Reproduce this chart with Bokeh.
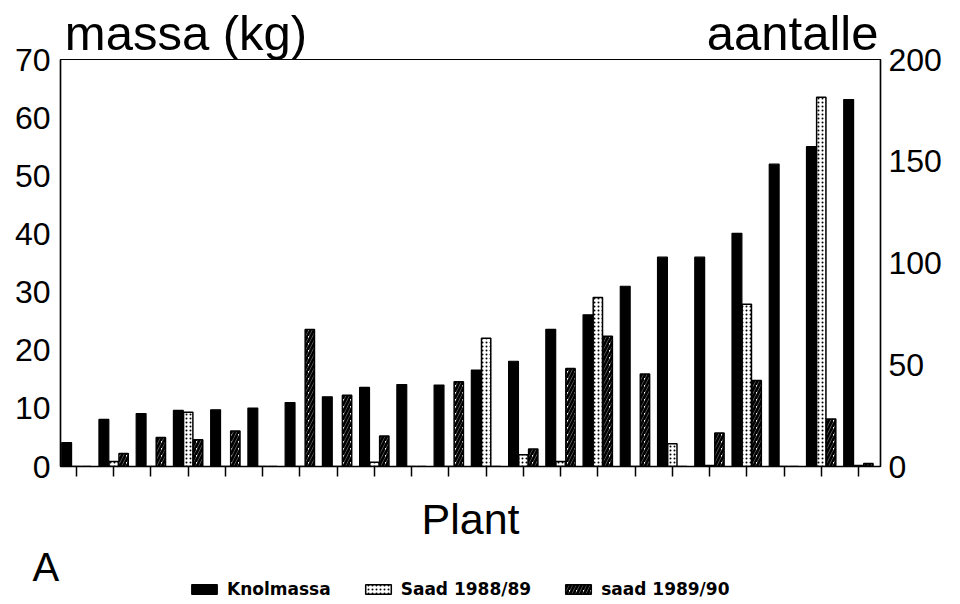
from bokeh.plotting import figure
from bokeh.models import (Range1d, LinearAxis, FixedTicker, Legend, Label,
                          LegendItem, ColumnDataSource)
from bokeh.transform import dodge
from bokeh.layouts import column
from bokeh.embed import file_html
from bokeh.resources import INLINE

plants = list(range(1, 23))
knolmassa = [4.1, 8.1, 9.1, 9.65, 9.75, 10.05, 11.0, 12.0, 13.6, 14.1, 14.0,
             16.6, 18.1, 23.6, 26.1, 31.0, 36.0, 36.0, 40.1, 52.0, 55.0, 63.1]
saad_1988_89 = [0, 2.5, 0, 26.6, 0, 0, 0, 0, 2.1, 0, 0,
                63, 5.8, 2.5, 83, 0, 11.2, 0.5, 79.7, 0, 181.5, 0.5]
saad_1989_90 = [0, 6.4, 14.2, 13.2, 17.5, 0, 67.3, 35, 15, 0, 41.7,
                0, 8.6, 48.2, 64, 45.5, 0, 16.5, 42.2, 0, 23.3, 1.5]
left_ticks = [0, 10, 20, 30, 40, 50, 60, 70]
right_ticks = [0, 50, 100, 150, 200]
left_title = "massa (kg)"
right_title = "aantalle"
x_title = "Plant"
panel_letter = "A"
series_names = ["Knolmassa", "Saad 1988/89", "saad 1989/90"]
series_fields = ["knol", "s88", "s89"]

src = ColumnDataSource(dict(plant=plants, knol=knolmassa,
                            s88=saad_1988_89, s89=saad_1989_90))

FONT = "Liberation Sans"
STYLES = [
    dict(fill_color="black", line_color="black", line_width=1.2),
    dict(fill_color="white", hatch_pattern="dot", hatch_color="black",
         hatch_scale=4, hatch_weight=1.2, line_color="black", line_width=1.5),
    dict(fill_color="white", hatch_pattern="right_diagonal_line",
         hatch_color="black", hatch_scale=7, hatch_weight=2.8,
         line_color="black", line_width=1.5),
]

p = figure(width=944, height=546, output_backend="svg", toolbar_location=None,
           x_range=Range1d(0.57, 22.59), y_range=Range1d(0, 70),
           min_border_left=60, min_border_right=64, min_border_top=59,
           min_border_bottom=80)
p.extra_y_ranges = {"right": Range1d(0, 200)}
p.grid.visible = False
p.outline_line_color = "black"
p.outline_line_width = 1.2
p.background_fill_color = "white"
p.border_fill_color = "white"

# x axis (below)
p.xaxis.ticker = FixedTicker(ticks=plants)
p.xaxis.major_label_text_font_size = "0px"
p.xaxis.major_label_overrides = {i: "" for i in plants}
p.xaxis.major_label_standoff = 0
p.xaxis.major_tick_out = 10
p.xaxis.major_tick_in = 0
p.xaxis.major_tick_line_width = 1.5
p.xaxis.minor_tick_line_color = None
p.xaxis.axis_line_width = 1.5
p.xaxis.axis_label = x_title
p.xaxis.axis_label_text_font = FONT
p.xaxis.axis_label_text_font_style = "normal"
p.xaxis.axis_label_text_font_size = "43px"
p.xaxis.axis_label_text_color = "black"
p.xaxis.axis_label_standoff = 18

# left axis
p.yaxis.ticker = FixedTicker(ticks=left_ticks)
p.yaxis.major_tick_line_color = None
p.yaxis.minor_tick_line_color = None
p.yaxis.major_tick_out = 0
p.yaxis.major_tick_in = 0
p.yaxis.major_label_standoff = 10
p.yaxis.major_label_text_font = FONT
p.yaxis.major_label_text_font_size = "32px"
p.yaxis.major_label_text_color = "black"
p.yaxis.axis_line_width = 1.5

# right axis
right = LinearAxis(y_range_name="right", ticker=FixedTicker(ticks=right_ticks))
right.major_tick_line_color = None
right.minor_tick_line_color = None
right.major_tick_out = 0
right.major_tick_in = 0
right.major_label_standoff = 8
right.major_label_text_font = FONT
right.major_label_text_font_size = "32px"
right.major_label_text_color = "black"
right.axis_line_width = 1.5
p.add_layout(right, "right")

# axis titles above the frame (as labels of a bare top axis)
title_pos = [3.94, 20.23]
top = LinearAxis(ticker=FixedTicker(ticks=title_pos),
                 major_label_overrides={title_pos[0]: left_title,
                                        title_pos[1]: right_title})
top.axis_line_color = None
top.major_tick_line_color = None
top.minor_tick_line_color = None
top.major_tick_out = 0
top.major_tick_in = 0
top.major_label_standoff = 0
top.major_label_text_font = FONT
top.major_label_text_font_size = "49px"
top.major_label_text_color = "black"
p.add_layout(top, "above")

# bars
offsets = [-0.265, 0.0, 0.265]
widths = [0.265, 0.25, 0.25]
ranges = ["default", "right", "right"]
for f, off, w, rn, st in zip(series_fields, offsets, widths, ranges, STYLES):
    p.vbar(x=dodge("plant", off), top=f, width=w, source=src,
           y_range_name=rn, **st)

# strip below the chart: panel letter and legend
q = figure(width=944, height=54, output_backend="svg", toolbar_location=None,
           x_range=Range1d(0.57, 22.59), y_range=Range1d(0, 70),
           x_axis_location=None, y_axis_location=None,
           min_border_left=0, min_border_right=0, min_border_top=0,
           min_border_bottom=0)
for fig in (p, q):
    if "frame_align" in fig.properties():
        fig.frame_align = False
q.grid.visible = False
q.outline_line_color = None
q.background_fill_color = "white"
q.border_fill_color = "white"
keys = []
for f, st in zip(series_fields, STYLES):
    r = q.vbar(x="plant", top=f, width=0.25, source=src, **st)
    r.visible = False   # only used for the legend swatches
    keys.append(r)

legend = Legend(items=[LegendItem(label=n, renderers=[r])
                       for n, r in zip(series_names, keys)],
                orientation="horizontal", location=(188, 1),
                glyph_width=32, glyph_height=12, label_height=12,
                label_standoff=7, spacing=31, padding=0, margin=0,
                border_line_color=None, background_fill_alpha=0,
                inactive_fill_alpha=0,
                label_text_font="DejaVu Sans", label_text_font_style="bold",
                label_text_font_size="17px", label_text_color="black")
q.add_layout(legend)
q.add_layout(Label(x=32, y=34, x_units="screen", y_units="screen",
                   text=panel_letter, text_font=FONT, text_font_size="40px",
                   text_color="black", text_baseline="alphabetic"))

open("out.html", "w").write(file_html(column(p, q, spacing=0), INLINE))
